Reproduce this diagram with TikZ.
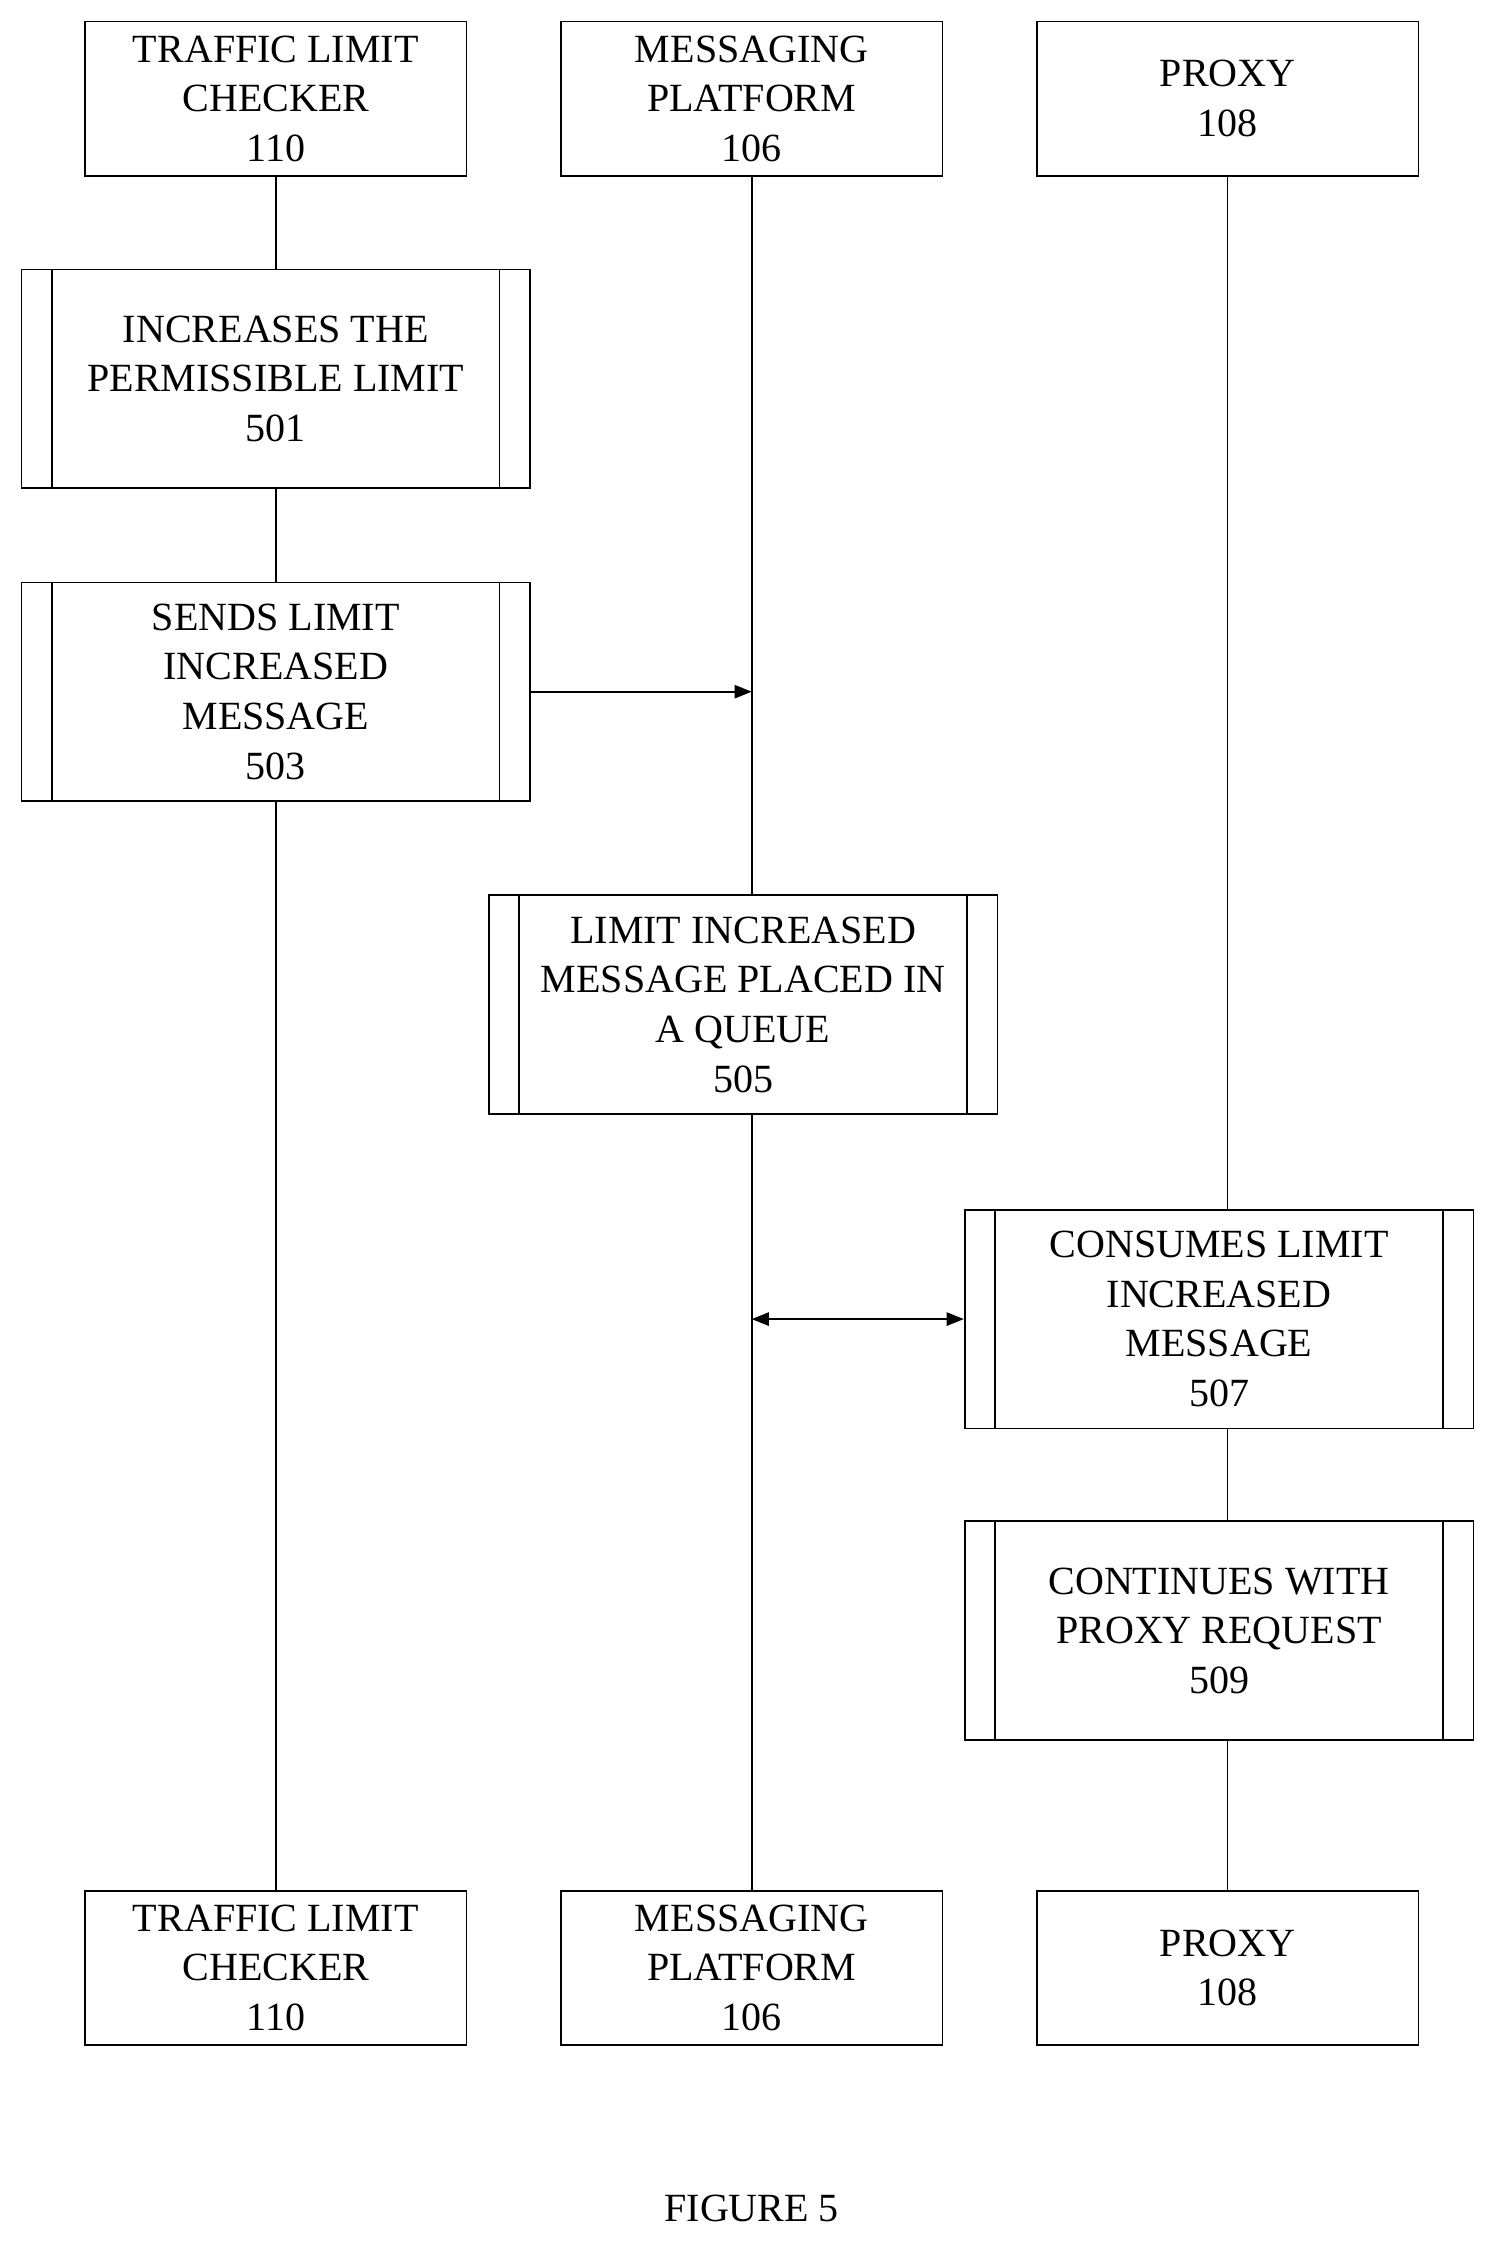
\documentclass[tikz,border=0pt]{standalone}
\usepackage{fontspec}
\setmainfont{Liberation Serif}
\usetikzlibrary{arrows.meta}
\tikzstyle{actor} = [rectangle, draw=black, minimum width=267*0.75pt, minimum height=108*0.75pt, align=center, inner sep=0pt]
\tikzstyle{process} = [rectangle, draw=black, minimum width=356*0.75pt, minimum height=153*0.75pt, align=center, inner sep=0pt]
\tikzstyle{arrow} = [-{Triangle[length=9pt,width=7pt]}]
\tikzstyle{both} = [{Triangle[length=9pt,width=7pt]}-{Triangle[length=9pt,width=7pt]}]
\begin{document}
\begin{tikzpicture}[x=0.75pt, y=-0.75pt, font=\fontsize{21}{26}\selectfont, line width=0.9pt]
    \useasboundingbox (0,0) rectangle (1050,1573);
    % actors
    \node(tlc)[actor] at (193,69) {TRAFFIC LIMIT\\CHECKER\\110};
    \node(mp)[actor] at (526,69) {MESSAGING\\PLATFORM\\106};
    \node(px)[actor] at (859,69) {PROXY\\108};
    \node(tlcb)[actor] at (193,1377) {TRAFFIC LIMIT\\CHECKER\\110};
    \node(mpb)[actor] at (526,1377) {MESSAGING\\PLATFORM\\106};
    \node(pxb)[actor] at (859,1377) {PROXY\\108};
    % steps
    \node(s501)[process] at (193,265) {INCREASES THE\\PERMISSIBLE LIMIT\\501};
    \node(s503)[process] at (193,484) {SENDS LIMIT\\INCREASED\\MESSAGE\\503};
    \node(s505)[process] at (520,703) {LIMIT INCREASED\\MESSAGE PLACED IN\\A QUEUE\\505};
    \node(s507)[process] at (853,923) {CONSUMES LIMIT\\INCREASED\\MESSAGE\\507};
    \node(s509)[process] at (853,1141) {CONTINUES WITH\\PROXY REQUEST\\509};
    \foreach \n in {s501,s503,s505,s507,s509} {
        \draw ([xshift=16.5pt]\n.north west) -- ([xshift=16.5pt]\n.south west);
        \draw ([xshift=-16.5pt]\n.north east) -- ([xshift=-16.5pt]\n.south east);
    }
    % lifelines
    \draw (tlc) -- (s501);
    \draw (s501) -- (s503);
    \draw (s503) -- (tlcb);
    \draw (mp.south) -- (526,627);
    \draw (526,780) -- (mpb.north);
    \draw (px.south) -- (859,847);
    \draw (859,999) -- (859,1065);
    \draw (859,1218) -- (pxb.north);
    % messages
    \draw[arrow] (s503.east) -- (526,484);
    \coordinate (q) at (526,923);
    \draw[both] (q) -- (s507.west);
    \node(fig) at (526,1545) {FIGURE 5};
\end{tikzpicture}
\end{document}
